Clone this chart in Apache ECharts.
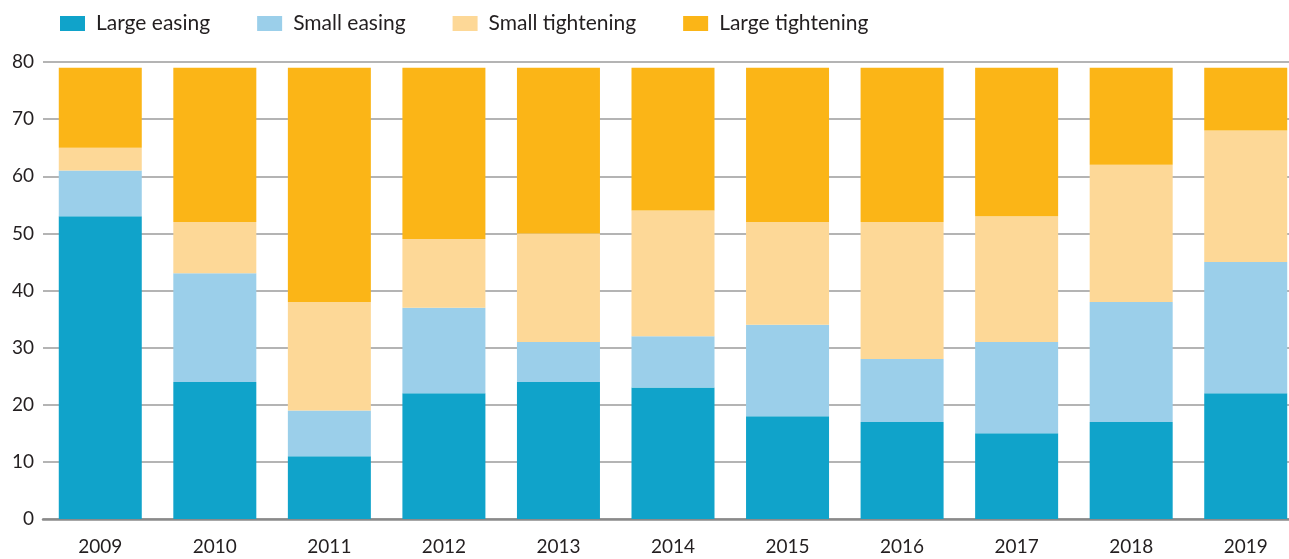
<!DOCTYPE html>
<html>
<head>
<meta charset="utf-8">
<script src="https://cdn.jsdelivr.net/npm/echarts@6/dist/echarts.min.js"></script>
<style>
  html, body { margin: 0; padding: 0; background: #fff; }
  #chart { width: 1289px; height: 559px; }
</style>
</head>
<body>
<div id="chart"></div>
<script>
// data
var years = ['2009', '2010', '2011', '2012', '2013', '2014', '2015', '2016', '2017', '2018', '2019'];
var largeEasing      = [53, 24, 11, 22, 24, 23, 18, 17, 15, 17, 22];
var smallEasing      = [8, 19, 8, 15, 7, 9, 16, 11, 16, 21, 23];
var smallTightening  = [4, 9, 19, 12, 19, 22, 18, 24, 22, 24, 23];
var largeTightening  = [14, 27, 41, 30, 29, 25, 27, 27, 26, 17, 11];
var yTicks = [0, 10, 20, 30, 40, 50, 60, 70, 80];

var myChart = echarts.init(document.getElementById('chart'));

var font = 'Lato, "Open Sans", sans-serif';
var textColor = '#231f20';

function bar(name, data, color) {
  return {
    name: name,
    type: 'bar',
    stack: 'total',
    barWidth: 83,
    data: data,
    itemStyle: { color: color },
    emphasis: { disabled: true }
  };
}

var option = {
  animation: false,
  textStyle: { fontFamily: font },
  legend: {
    left: 55,
    top: 8,
    itemWidth: 25,
    itemHeight: 15,
    itemGap: 47,
    icon: 'rect',
    textStyle: { fontSize: 21, color: textColor, fontFamily: font, padding: [0, 0, 0, 6] },
    data: ['Large easing', 'Small easing', 'Small tightening', 'Large tightening']
  },
  grid: {
    left: 43,
    top: 62,
    bottom: 40,
    right: -14,
    outerBoundsMode: 'none',
    containLabel: false
  },
  xAxis: {
    type: 'category',
    data: years,
    axisTick: { show: false },
    axisLine: { lineStyle: { color: '#8a8a8a', width: 2.5 } },
    axisLabel: { fontSize: 19, color: textColor, margin: 18, fontFamily: font }
  },
  yAxis: {
    type: 'value',
    min: yTicks[0],
    max: yTicks[yTicks.length - 1],
    interval: 10,
    axisLine: { show: false },
    axisTick: { show: false },
    axisLabel: { fontSize: 19, color: textColor, margin: 9, fontFamily: font },
    splitLine: { lineStyle: { color: '#9b9b9b', width: 1.5 } }
  },
  series: [
    bar('Large easing', largeEasing, '#10a3ca'),
    bar('Small easing', smallEasing, '#9bcfea'),
    bar('Small tightening', smallTightening, '#fdd897'),
    bar('Large tightening', largeTightening, '#fbb517')
  ]
};

myChart.setOption(option);
</script>
</body>
</html>
